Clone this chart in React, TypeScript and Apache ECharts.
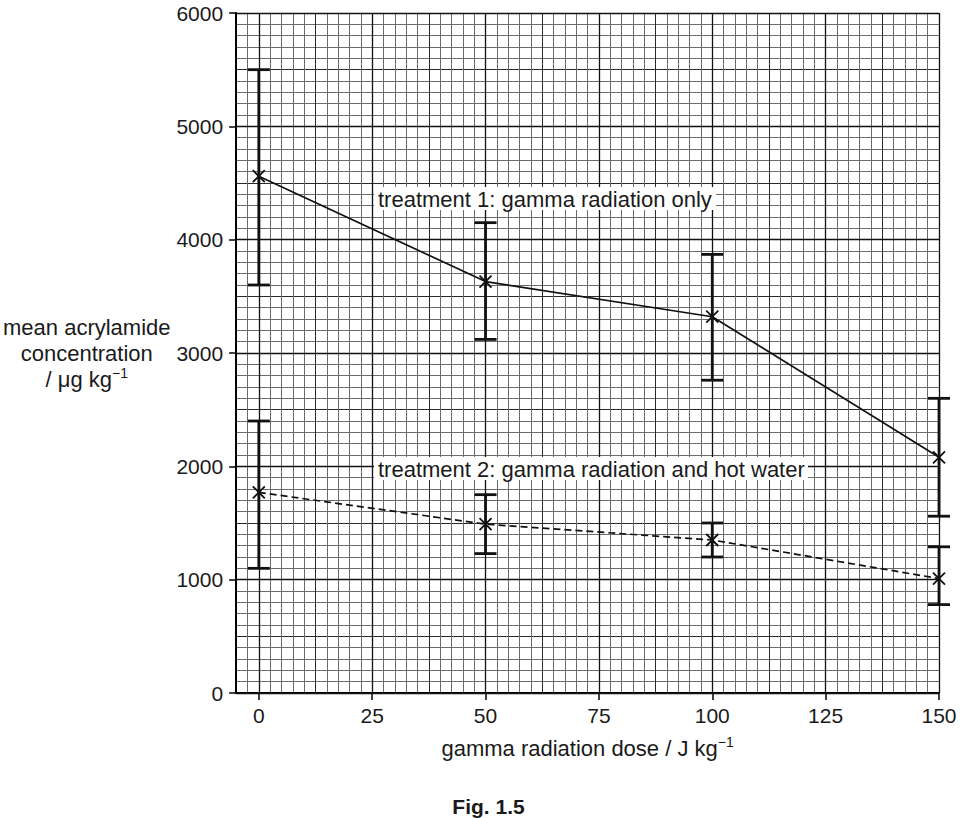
import { useEffect, useRef } from 'react';
import * as echarts from 'echarts';

// gamma radiation dose, J kg-1
const doses = [0, 50, 100, 150];
// treatment 1: gamma radiation only
const treatment1 = [4560, 3630, 3320, 2080];
const treatment1Low = [3600, 3120, 2760, 1560];
const treatment1High = [5500, 4150, 3870, 2600];
// treatment 2: gamma radiation and hot water
const treatment2 = [1770, 1490, 1350, 1010];
const treatment2Low = [1100, 1230, 1200, 780];
const treatment2High = [2400, 1750, 1500, 1290];

const xTicks = [0, 25, 50, 75, 100, 125, 150];
const yTicks = [0, 1000, 2000, 3000, 4000, 5000, 6000];

const FONT = '"Liberation Sans", Arial, Helvetica, sans-serif';
const INK = '#1a1a1a';

// graph paper: one small square = 2.5 x units / 100 y units
const MID = '#2a2a2a';
const MINOR = '#6a6a6a';
const xGridColors = [MINOR, MINOR, MID, MINOR, MINOR, MINOR, MINOR, MID, MINOR, MINOR]; // starts at -5
const yGridColors = [MID, MINOR, MINOR, MINOR, MINOR, MID, MINOR, MINOR, MINOR, MINOR]; // starts at 0

const cross = 'path://M0,0L10,10M0,10L10,0';

const App = () => {
    const chartRef = useRef<HTMLDivElement>(null);

    useEffect(() => {
        const chart = echarts.init(chartRef.current, null, { renderer: 'svg' });

        const errorRows = [
            ...doses.map((d, i) => [d, treatment1Low[i], treatment1High[i]]),
            ...doses.map((d, i) => [d, treatment2Low[i], treatment2High[i]]),
        ];

        chart.setOption({
            animation: false,
            title: {
                text: 'Fig. 1.5',
                left: 'center',
                top: 798,
                padding: 0,
                textStyle: { fontFamily: FONT, fontSize: 21, lineHeight: 17, fontWeight: 'bold', color: INK },
            },
            grid: { left: 236, right: 38, top: 13, bottom: 125 },
            xAxis: [
                {
                    type: 'value', min: -5, max: 150, interval: 2.5,
                    axisLine: { show: false }, axisTick: { show: false }, axisLabel: { show: false },
                    splitLine: { show: true, lineStyle: { color: xGridColors, width: 1 } },
                },
                {
                    type: 'value', min: -5, max: 150, position: 'bottom',
                    axisLine: { show: true, onZero: false, lineStyle: { color: '#000', width: 2 } },
                    axisTick: { show: true, customValues: xTicks, length: 7, lineStyle: { color: '#000', width: 1.5 } },
                    axisLabel: {
                        customValues: xTicks, margin: 12, fontSize: 21, fontFamily: FONT, color: INK,
                        formatter: (v: number) => String(v),
                    },
                    splitLine: { show: false },
                    name: '{a|gamma radiation dose / J kg}{s|−1}',
                    nameLocation: 'middle',
                    nameGap: 42,
                    nameTextStyle: {
                        rich: {
                            a: { fontSize: 22, fontFamily: FONT, color: INK, lineHeight: 26, verticalAlign: 'middle' },
                            s: { fontSize: 14, fontFamily: FONT, color: INK, lineHeight: 14, verticalAlign: 'top' },
                        },
                    },
                },
            ],
            yAxis: [
                {
                    type: 'value', min: 0, max: 6000, interval: 100,
                    axisLine: { show: false }, axisTick: { show: false }, axisLabel: { show: false },
                    splitLine: { show: true, lineStyle: { color: yGridColors, width: 1 } },
                },
                {
                    type: 'value', min: 0, max: 6000, interval: 1000, position: 'left',
                    axisLine: { show: true, onZero: false, lineStyle: { color: '#000', width: 2 } },
                    axisTick: { show: true, length: 7, lineStyle: { color: '#000', width: 1.5 } },
                    axisLabel: {
                        customValues: yTicks, margin: 13, fontSize: 21, fontFamily: FONT, color: INK,
                        formatter: (v: number) => String(v),
                    },
                    splitLine: { show: false },
                    name: '{a|mean acrylamide}\n{a|concentration}\n{a|/ μg kg}{s|−1}',
                    nameLocation: 'middle',
                    nameRotate: 0,
                    nameGap: 142,
                    nameTextStyle: {
                        align: 'center',
                        verticalAlign: 'middle',
                        rich: {
                            a: { fontSize: 22, fontFamily: FONT, color: INK, lineHeight: 26, align: 'center', verticalAlign: 'middle' },
                            s: { fontSize: 14, fontFamily: FONT, color: INK, lineHeight: 14, align: 'center', verticalAlign: 'top' },
                        },
                    },
                },
            ],
            graphic: [
                { type: 'rect', shape: { x: 374, y: 187, width: 342, height: 23 }, style: { fill: '#fff' }, z: 10 },
                {
                    type: 'text', x: 378, y: 199, z: 11,
                    style: { text: 'treatment 1: gamma radiation only', font: `22px ${FONT}`, fill: INK, textVerticalAlign: 'middle' },
                },
                { type: 'rect', shape: { x: 374, y: 457, width: 434, height: 23 }, style: { fill: '#fff' }, z: 10 },
                {
                    type: 'text', x: 378, y: 469, z: 11,
                    style: { text: 'treatment 2: gamma radiation and hot water', font: `22px ${FONT}`, fill: INK, textVerticalAlign: 'middle' },
                },
            ],
            series: [
                {
                    name: 'error bars',
                    type: 'custom',
                    xAxisIndex: 0,
                    yAxisIndex: 0,
                    z: 3,
                    encode: { x: 0, y: [1, 2] },
                    data: errorRows,
                    renderItem: (_params: any, api: any) => {
                        const x = api.value(0);
                        const lo = api.coord([x, api.value(1)]);
                        const hi = api.coord([x, api.value(2)]);
                        const half = 11;
                        const style = { stroke: '#111', lineWidth: 2.8 };
                        return {
                            type: 'group',
                            children: [
                                { type: 'line', shape: { x1: lo[0], y1: lo[1], x2: hi[0], y2: hi[1] }, style },
                                { type: 'line', shape: { x1: lo[0] - half, y1: lo[1], x2: lo[0] + half, y2: lo[1] }, style },
                                { type: 'line', shape: { x1: hi[0] - half, y1: hi[1], x2: hi[0] + half, y2: hi[1] }, style },
                            ],
                        };
                    },
                    // heavier graph-paper lines at the labelled ticks
                    markLine: {
                        silent: true,
                        symbol: ['none', 'none'],
                        label: { show: false },
                        lineStyle: { color: '#111', width: 1.3, type: 'solid' },
                        data: [
                            ...xTicks.map((v) => ({ xAxis: v })),
                            ...yTicks.map((v) => ({ yAxis: v })),
                        ],
                    },
                },
                {
                    name: 'treatment 1',
                    type: 'line',
                    xAxisIndex: 0,
                    yAxisIndex: 0,
                    z: 4,
                    data: doses.map((d, i) => [d, treatment1[i]]),
                    symbol: cross,
                    symbolSize: 12,
                    lineStyle: { color: '#111', width: 1.7 },
                    itemStyle: { color: '#111', borderColor: '#111', borderWidth: 1.8 },
                },
                {
                    name: 'treatment 2',
                    type: 'line',
                    xAxisIndex: 0,
                    yAxisIndex: 0,
                    z: 4,
                    data: doses.map((d, i) => [d, treatment2[i]]),
                    symbol: cross,
                    symbolSize: 12,
                    lineStyle: { color: '#111', width: 1.7, type: [7, 4] },
                    itemStyle: { color: '#111', borderColor: '#111', borderWidth: 1.8 },
                },
            ],
        });

        return () => {
            chart.dispose();
        };
    }, []);

    return (
        <div
            ref={chartRef}
            style={{ position: 'absolute', left: 0, top: 0, width: 977, height: 818, background: '#fff' }}
        />
    );
};

export default App;
